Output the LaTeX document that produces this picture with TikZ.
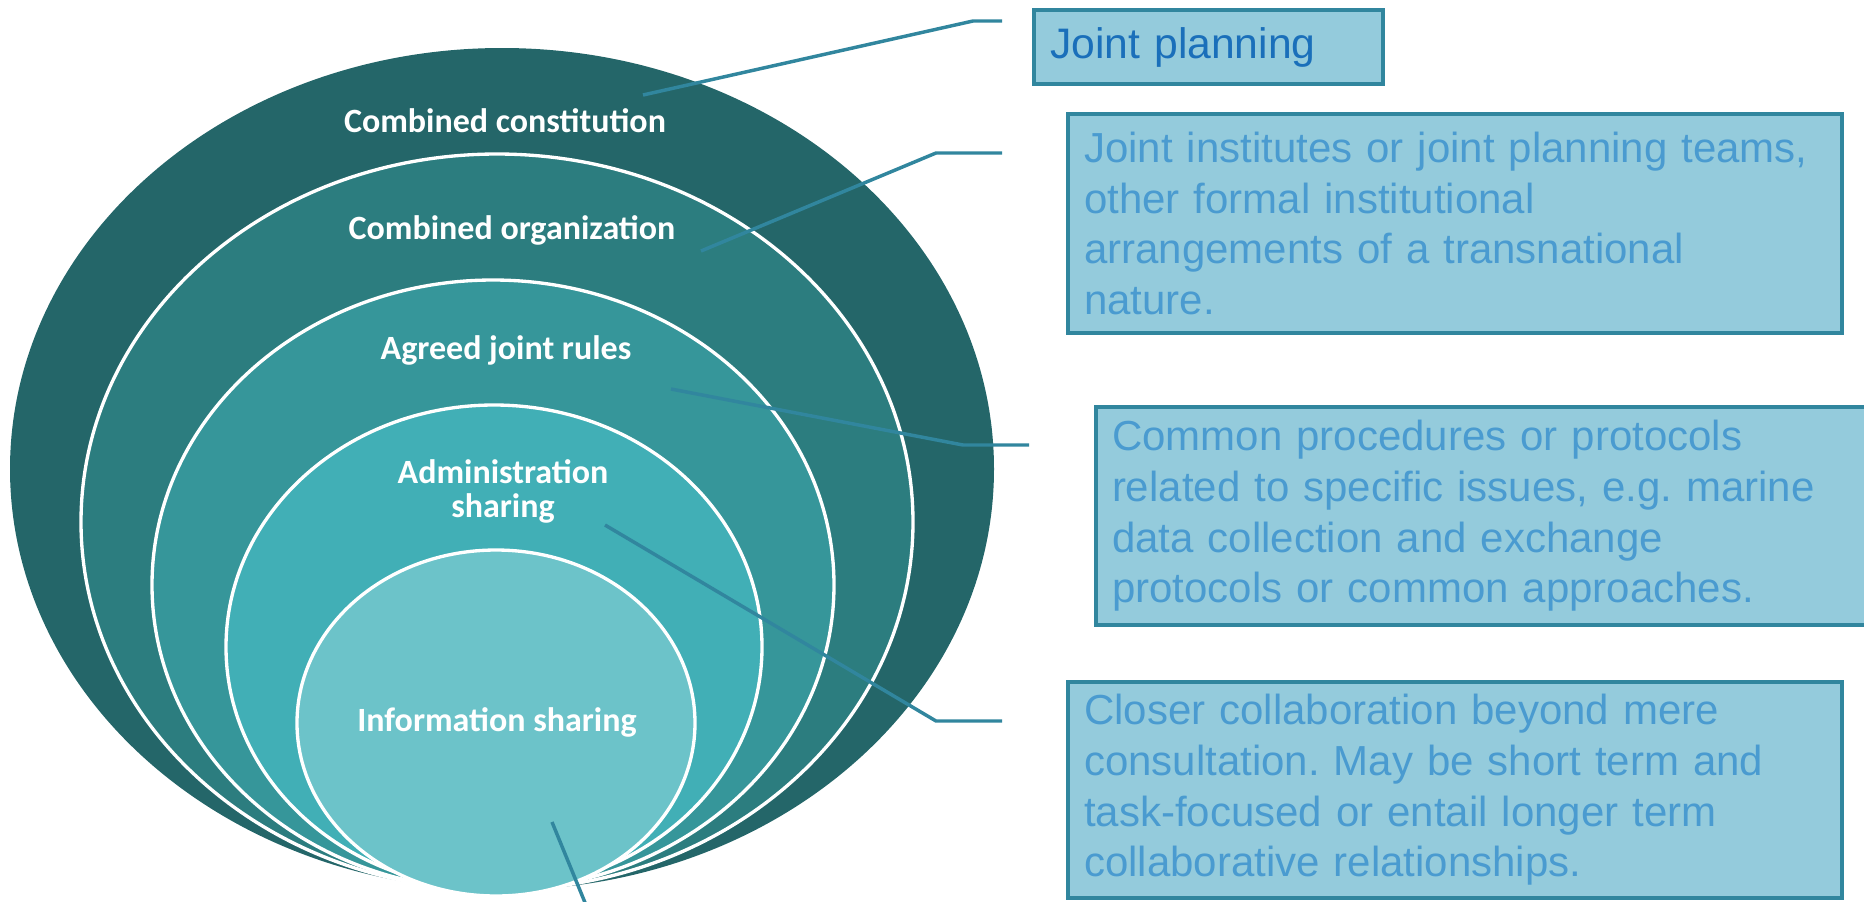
\documentclass[tikz,border=0pt]{standalone}
\usepackage{fontspec}
\setmainfont{Liberation Sans}
\newfontfamily\capafont{Carlito}
\usepackage{tikz}
\usetikzlibrary{positioning}
\frenchspacing

\definecolor{capaA}{HTML}{246669}
\definecolor{capaB}{HTML}{2C7D7F}
\definecolor{capaC}{HTML}{36969A}
\definecolor{capaD}{HTML}{41AFB6}
\definecolor{capaE}{HTML}{6CC3C9}
\definecolor{linea}{HTML}{31869E}
\definecolor{fondocaja}{HTML}{94CBDC}
\definecolor{textoA}{HTML}{1A6FBA}
\definecolor{textoB}{HTML}{4A9BD0}

\begin{document}
\begin{tikzpicture}[x=0.75pt, y=-0.75pt,
    capa/.style={draw=white, line width=2.5pt},
    etiqueta/.style={text=white, font=\capafont\bfseries\fontsize{25.5}{25.5}\selectfont, align=center, inner sep=0pt, anchor=base},
    caja/.style={draw=linea, fill=fondocaja, line width=3pt, anchor=north west, align=left, inner xsep=12pt, inner ysep=0pt, text=textoB, font=\fontsize{31.5}{38}\selectfont},
    enlace/.style={draw=linea, line width=2.6pt}]
  \useasboundingbox (0,0) rectangle (1864,901);

  % Elipses
  \fill[capaA] (502,469) ellipse [x radius=369pt, y radius=315.75pt];
  \filldraw[capa, fill=capaB] (497,522) ellipse [x radius=312pt, y radius=276pt];
  \filldraw[capa, fill=capaC] (493,585) ellipse [x radius=255.75pt, y radius=228.75pt];
  \filldraw[capa, fill=capaD] (494,647) ellipse [x radius=201pt, y radius=181.5pt];
  \filldraw[capa, fill=capaE] (496,723) ellipse [x radius=149.25pt, y radius=129.75pt];

  % Nodos
  \node[etiqueta] (constitucion) at (505,132) {Combined constitution};
  \node[etiqueta] (organizacion) at (512,239) {Combined organization};
  \node[etiqueta] (reglas) at (506,359) {Agreed joint rules};
  \node[etiqueta] (administracion) at (503,517) {Administration\\sharing};
  \node[etiqueta] (informacion) at (497,731) {Information sharing};

  \node[caja, text width=237.75pt, minimum height=55.5pt, text=textoA, font=\fontsize{32}{38}\selectfont] (planificacion) at (1032,8) {Joint planning};
  \node[caja, text width=556.5pt, minimum height=164.25pt] (institutos) at (1066,112)
    {Joint institutes or joint planning teams,\\other formal institutional\\arrangements of a transnational\\nature.};
  \node[caja, text width=556.5pt, minimum height=163.5pt] (procedimientos) at (1094,405)
    {Common procedures or protocols\\related to specific issues, e.g. marine\\data collection and exchange\\protocols or common approaches.};
  \node[caja, text width=556.5pt, minimum height=162pt] (colaboracion) at (1066,680)
    {Closer collaboration beyond mere\\consultation. May be short term and\\task-focused or entail longer term\\collaborative relationships.};

  % Puntos de las aristas
  \coordinate (a1) at (643,95);  \coordinate (b1) at (973,21);  \coordinate (c1) at (1002,21);
  \coordinate (a2) at (701,251); \coordinate (b2) at (936,153); \coordinate (c2) at (1002,153);
  \coordinate (a3) at (671,389); \coordinate (b3) at (963,445); \coordinate (c3) at (1029,445);
  \coordinate (a4) at (605,525); \coordinate (b4) at (936,721); \coordinate (c4) at (1002,721);
  \coordinate (a5) at (552,822); \coordinate (b5) at (586,905);

  % Aristas
  \draw[enlace] (a1) -- (b1) -- (c1);
  \draw[enlace] (a2) -- (b2) -- (c2);
  \draw[enlace] (a3) -- (b3) -- (c3);
  \draw[enlace] (a4) -- (b4) -- (c4);
  \draw[enlace] (a5) -- (b5);
\end{tikzpicture}
\end{document}
